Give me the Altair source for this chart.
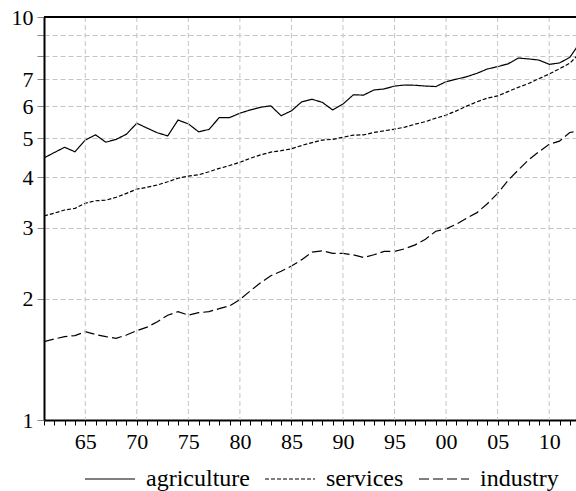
import altair as alt
import pandas as pd

years = list(range(1961, 2014))

agriculture = [4.47, 4.61, 4.75, 4.63, 4.95, 5.10, 4.89, 4.97, 5.12, 5.45,
               5.30, 5.16, 5.07, 5.55, 5.43, 5.19, 5.26, 5.63, 5.63, 5.77,
               5.88, 5.97, 6.02, 5.69, 5.85, 6.16, 6.25, 6.14, 5.88, 6.08,
               6.41, 6.40, 6.59, 6.63, 6.74, 6.78, 6.77, 6.74, 6.72, 6.91,
               7.01, 7.11, 7.25, 7.43, 7.53, 7.65, 7.91, 7.87, 7.82, 7.63,
               7.69, 7.94, 8.65]

services = [3.21, 3.26, 3.32, 3.35, 3.45, 3.50, 3.51, 3.57, 3.65, 3.74,
            3.78, 3.83, 3.90, 3.98, 4.03, 4.06, 4.13, 4.21, 4.28, 4.36,
            4.46, 4.55, 4.62, 4.66, 4.71, 4.80, 4.88, 4.95, 4.97, 5.03,
            5.09, 5.10, 5.17, 5.22, 5.27, 5.33, 5.42, 5.50, 5.61, 5.71,
            5.85, 6.01, 6.16, 6.29, 6.37, 6.53, 6.69, 6.84, 7.03, 7.22,
            7.44, 7.68, 8.15]

industry = [1.565, 1.589, 1.61, 1.62, 1.656, 1.63, 1.61, 1.595, 1.625, 1.666,
            1.70, 1.754, 1.82, 1.857, 1.82, 1.846, 1.857, 1.89, 1.92, 1.99,
            2.09, 2.19, 2.28, 2.34, 2.41, 2.50, 2.61, 2.63, 2.59, 2.59,
            2.57, 2.53, 2.57, 2.62, 2.62, 2.66, 2.72, 2.81, 2.94, 2.98,
            3.06, 3.17, 3.27, 3.44, 3.65, 3.93, 4.17, 4.42, 4.63, 4.83,
            4.92, 5.17, 5.22]

series_names = ["agriculture", "services", "industry"]
x_tick_years = list(range(1961, 2013))
x_grid_years = list(range(1965, 2011, 5))
y_ticks = [1, 2, 3, 4, 5, 6, 7, 8, 9, 10]
y_labels = [1, 2, 3, 4, 5, 6, 7, 10]
y_top = [10]

rows = []
for name, vals in zip(series_names, [agriculture, services, industry]):
    for yr, v in zip(years, vals):
        rows.append({"year": yr, "value": v, "series": name})
df = pd.DataFrame(rows)
top_df = pd.DataFrame({"value": y_top})
vgrid_df = pd.DataFrame({"year": x_grid_years})

FONT = "Liberation Serif"
GRID = "#c4c4c4"
xscale = alt.Scale(domain=[1961, 2012.6], nice=False, zero=False)
yscale = alt.Scale(type="log", domain=[1, 10], nice=False)

label_test = " || ".join(f"datum.value === {v}" for v in y_labels)

lines = alt.Chart(df).mark_line(color="black", strokeWidth=1.2, clip=True).encode(
    x=alt.X("year:Q", scale=xscale, title=None,
            axis=alt.Axis(values=x_tick_years, orient="bottom", grid=False,
                          ticks=True, tickSize=5, tickColor="black", tickWidth=1,
                          labelExpr="datum.value % 5 === 0 ? ((datum.value % 100 < 10 ? '0' : '') + (datum.value % 100)) : ''",
                          labelFlush=False, labelOverlap=False, labelPadding=6,
                          labelFont=FONT, labelFontSize=22)),
    y=alt.Y("value:Q", scale=yscale, title=None,
            axis=alt.Axis(values=y_ticks, orient="left", tickSize=7, grid=True,
                          labelExpr=f"({label_test}) ? datum.value : ''",
                          labelOverlap=False, labelPadding=4,
                          labelFont=FONT, labelFontSize=22)),
    strokeDash=alt.StrokeDash("series:N",
                              scale=alt.Scale(domain=series_names, range=[[1, 0], [4, 2], [10, 4]]),
                              legend=alt.Legend(title=None, orient="none", direction="horizontal",
                                                legendX=40, legendY=436,
                                                symbolType="stroke", symbolSize=2500,
                                                symbolStrokeColor="black", symbolStrokeWidth=1.2,
                                                labelFont=FONT, labelFontSize=24, labelColor="black",
                                                labelOffset=10, columnPadding=12)),
)

vgrid = alt.Chart(vgrid_df).mark_rule(color=GRID, strokeWidth=1, strokeDash=[5, 3]).encode(
    x=alt.X("year:Q", scale=xscale, axis=None),
)

top = alt.Chart(top_df).mark_rule(color="black", strokeWidth=2).encode(
    y=alt.Y("value:Q", scale=yscale),
)

chart = alt.layer(lines, vgrid, top).resolve_axis(x="independent").properties(
    width=532, height=403,
    autosize=alt.AutoSizeParams(type="none"),
    padding={"left": 44, "right": 0, "top": 17, "bottom": 71},
).configure_view(stroke=None).configure_axis(
    domainColor="black", domainWidth=2,
    labelFont=FONT, labelFontSize=22, labelColor="black",
    gridColor=GRID, gridDash=[5, 3], gridWidth=1,
)

chart.save("out.html", embed_options={"renderer": "svg", "actions": False})
